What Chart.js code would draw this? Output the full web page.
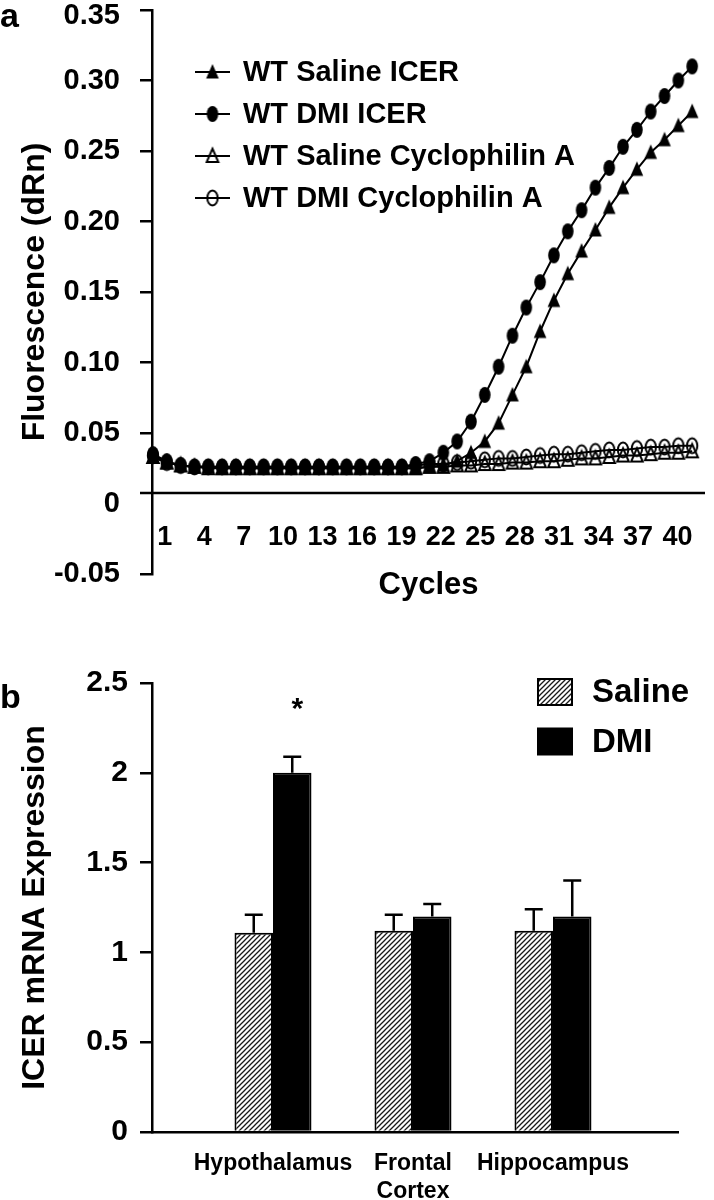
<!DOCTYPE html>
<html><head><meta charset="utf-8">
<script src="https://cdn.jsdelivr.net/npm/chart.js@4.4.1/dist/chart.umd.min.js"></script>
<style>
html,body{margin:0;padding:0;background:#fff;}
body{width:714px;height:1200px;position:relative;overflow:hidden;font-family:"Liberation Sans",Arial,sans-serif;}
canvas{position:absolute;left:0;}
#ca{top:0;} #cb{top:620px;}
.panel{position:absolute;left:0;font:bold 34px "Liberation Sans",Arial,sans-serif;line-height:34px;color:#000;}
</style></head><body>
<canvas id="ca" width="714" height="620"></canvas>
<canvas id="cb" width="714" height="580"></canvas>
<div class="panel" style="top:-2px">a</div>
<div class="panel" style="top:679px">b</div>
<script>
// ---------- Panel a data ----------
const cycles = [1,2,3,4,5,6,7,8,9,10,11,12,13,14,15,16,17,18,19,20,21,22,23,24,25,26,27,28,29,30,31,32,33,34,35,36,37,38,39,40];
const salineICER = [0.033,0.029,0.027,0.026,0.026,0.025,0.025,0.025,0.025,0.025,0.025,0.025,0.025,0.025,0.025,0.025,0.025,0.025,0.025,0.025,0.026,0.027,0.030,0.036,0.044,0.057,0.077,0.097,0.122,0.144,0.163,0.179,0.194,0.210,0.224,0.237,0.249,0.258,0.268,0.278];
const dmiICER = [0.035,0.030,0.027,0.026,0.026,0.026,0.026,0.026,0.026,0.026,0.026,0.026,0.026,0.026,0.026,0.026,0.026,0.026,0.026,0.028,0.030,0.036,0.044,0.058,0.077,0.097,0.119,0.139,0.157,0.176,0.193,0.208,0.224,0.238,0.253,0.265,0.278,0.289,0.300,0.310];
const salineCyclophilin = [0.033,0.029,0.027,0.026,0.025,0.025,0.025,0.025,0.025,0.025,0.025,0.025,0.025,0.025,0.025,0.025,0.025,0.025,0.025,0.025,0.026,0.026,0.027,0.027,0.028,0.028,0.029,0.029,0.030,0.030,0.031,0.032,0.032,0.033,0.034,0.034,0.035,0.036,0.036,0.037];
const dmiCyclophilin = [0.034,0.029,0.027,0.026,0.026,0.026,0.026,0.026,0.026,0.026,0.026,0.026,0.026,0.026,0.026,0.026,0.026,0.026,0.026,0.027,0.028,0.028,0.029,0.030,0.031,0.032,0.032,0.033,0.034,0.035,0.035,0.036,0.037,0.038,0.038,0.039,0.040,0.040,0.041,0.041];
const seriesLabelsA = ['WT Saline ICER','WT DMI ICER','WT Saline Cyclophilin A','WT DMI Cyclophilin A'];
const cycleTickLabels = [1,4,7,10,13,16,19,22,25,28,31,34,37,40];
const yTickValuesA = [-0.05,0,0.05,0.10,0.15,0.20,0.25,0.30,0.35];
const yTickLabelsA = ['-0.05','0','0.05','0.10','0.15','0.20','0.25','0.30','0.35'];
const thresholdValue = 0.0075;

// ---------- Panel b data ----------
const regions = ['Hypothalamus', ['Frontal','Cortex'], 'Hippocampus'];
const salineMean = [1.11, 1.12, 1.12];
const salineSEM  = [0.10, 0.09, 0.12];
const dmiMean    = [2.00, 1.20, 1.20];
const dmiSEM     = [0.09, 0.07, 0.20];
const significance = ['*', '', ''];
const groupLabelsB = ['Saline','DMI'];
const yTickValuesB = [0,0.5,1,1.5,2,2.5];
const yTickLabelsB = ['0','0.5','1','1.5','2','2.5'];

const FONT = '"Liberation Sans", Arial, Helvetica, sans-serif';

function makeMarker(kind){
  const c=document.createElement('canvas');
  const w=16,h=20; c.width=w; c.height=h;
  const g=c.getContext('2d');
  g.fillStyle='#000'; g.strokeStyle='#000'; g.lineWidth=2;
  const cx=w/2, cy=h/2;
  g.beginPath();
  if(kind==='filledCircle'){ g.ellipse(cx,cy,5.8,8,0,0,Math.PI*2); g.fill(); }
  else if(kind==='openCircle'){ g.ellipse(cx,cy,5.2,7.4,0,0,Math.PI*2); g.stroke(); }
  else if(kind==='filledTriangle'){ g.moveTo(cx,cy-8); g.lineTo(cx+6.3,cy+6.5); g.lineTo(cx-6.3,cy+6.5); g.closePath(); g.fill(); }
  else { g.moveTo(cx,cy-7.3); g.lineTo(cx+5.8,cy+6); g.lineTo(cx-5.8,cy+6); g.closePath(); g.stroke(); }
  return c;
}
const markerKinds = ['filledTriangle','filledCircle','openTriangle','openCircle'];
const seriesA = [salineICER, dmiICER, salineCyclophilin, dmiCyclophilin];

const datasetsA = seriesA.map((vals,i)=>({
  label: seriesLabelsA[i],
  data: vals.map((v,j)=>({x:cycles[j], y:v})),
  borderColor:'#000', borderWidth:2, backgroundColor:'#000',
  pointStyle: makeMarker(markerKinds[i]), pointRadius:7, pointHoverRadius:7,
  fill:false, tension:0, clip:false, xAxisID:'x', yAxisID:'y'
}));

const thresholdPlugin = {
  id:'threshold',
  afterDraw(chart){
    const {ctx, chartArea} = chart; const ys = chart.scales.y;
    const y = ys.getPixelForValue(thresholdValue);
    ctx.save(); ctx.strokeStyle='#000'; ctx.lineWidth=2.5;
    ctx.beginPath(); ctx.moveTo(chartArea.left-12, y); ctx.lineTo(chartArea.right, y); ctx.stroke();
    // y tick labels (kept inside the canvas at the top)
    ctx.fillStyle='#000'; ctx.font='bold 29px '+FONT; ctx.textAlign='right'; ctx.textBaseline='middle';
    yTickValuesA.forEach((v,i)=>{
      const py = Math.max(ys.getPixelForValue(v), 16);
      ctx.fillText(yTickLabelsA[i], chartArea.left-32, py);
    });
    ctx.restore();
  }
};
const legendAPlugin = {
  id:'legendA',
  afterDraw(chart){
    const ctx=chart.ctx; ctx.save();
    chart.data.datasets.forEach((ds,i)=>{
      const y = 72 + i*42;
      ctx.strokeStyle='#000'; ctx.lineWidth=2;
      ctx.beginPath(); ctx.moveTo(195,y); ctx.lineTo(230,y); ctx.stroke();
      const img=ds.pointStyle; ctx.drawImage(img, 212.5-img.width/2, y-img.height/2);
      ctx.fillStyle='#000'; ctx.font='bold 29px '+FONT; ctx.textBaseline='middle'; ctx.textAlign='left';
      ctx.fillText(ds.label, 243, y+1);
    });
    ctx.restore();
  }
};

new Chart(document.getElementById('ca'), {
  type:'line',
  data:{datasets:datasetsA},
  options:{
    responsive:false, animation:false, devicePixelRatio:1,
    layout:{padding:{top:10,left:0,right:1,bottom:46}},
    plugins:{legend:{display:false}, tooltip:{enabled:false}},
    scales:{
      x:{type:'linear', display:false, min:0.929, max:40.927},
      xl:{type:'linear', axis:'x', position:{y:thresholdValue}, min:0.025, max:42.1,
        grid:{display:false, drawTicks:false}, border:{display:false},
        afterBuildTicks:s=>{ s.ticks = cycleTickLabels.map(v=>({value:v})); },
        ticks:{font:{family:FONT,size:27,weight:'bold'}, color:'#000', padding:28, maxRotation:0, autoSkip:false, callback:(v,i)=>String(cycleTickLabels[i])},
        title:{display:true, text:'Cycles', font:{family:FONT,size:31,weight:'bold'}, color:'#000', padding:{top:-14,bottom:0}},
        afterFit:s=>{ s.paddingLeft=0; s.paddingRight=0; }
      },
      y:{type:'linear', position:'left', min:-0.05, max:0.35,
        afterBuildTicks:s=>{ s.ticks = yTickValuesA.map(v=>({value:v})); },
        grid:{drawOnChartArea:false, drawTicks:true, tickLength:12, lineWidth:2.5,
              color:c=> (c.tick && Math.abs(c.tick.value)<1e-9) ? 'rgba(0,0,0,0)' : '#000'},
        border:{display:true, color:'#000', width:2.5},
        ticks:{display:false, font:{family:FONT,size:29,weight:'bold'}, color:'#000', padding:20, autoSkip:false, callback:(v,i)=>yTickLabelsA[i]},
        title:{display:true, text:'Fluorescence (dRn)', font:{family:FONT,size:32,weight:'bold'}, color:'#000', padding:{top:16,bottom:0}},
        afterFit:s=>{ s.width=152; s.paddingTop=0; s.paddingBottom=0; }
      }
    }
  },
  plugins:[thresholdPlugin, legendAPlugin]
});

// ---------- Panel b ----------
const cbEl = document.getElementById('cb');
const hatch = (()=>{
  const c=document.createElement('canvas'); c.width=c.height=5;
  const g=c.getContext('2d'); g.fillStyle='#fff'; g.fillRect(0,0,5,5);
  g.strokeStyle='#1a1a1a'; g.lineWidth=1.3; g.beginPath();
  g.moveTo(-1,6); g.lineTo(6,-1); g.moveTo(-1,1); g.lineTo(1,-1); g.moveTo(4,6); g.lineTo(6,4); g.stroke();
  return cbEl.getContext('2d').createPattern(c,'repeat');
})();
const groupX = regions.map((r,i)=>i+1);
const datasetsB = [
  {label:groupLabelsB[0], data:salineMean.map((v,i)=>({x:groupX[i], y:v})), sem:salineSEM,
   backgroundColor:hatch, borderColor:'#000', borderWidth:2},
  {label:groupLabelsB[1], data:dmiMean.map((v,i)=>({x:groupX[i], y:v})), sem:dmiSEM,
   backgroundColor:'#000', borderColor:'#000', borderWidth:2}
];
const errorPlugin = {
  id:'errbars',
  afterDatasetsDraw(chart){
    const ctx=chart.ctx, ys=chart.scales.y; ctx.save();
    ctx.strokeStyle='#000'; ctx.lineWidth=2.5;
    chart.data.datasets.forEach((ds,di)=>{
      chart.getDatasetMeta(di).data.forEach((bar,i)=>{
        const top = ys.getPixelForValue(ds.data[i].y + ds.sem[i]);
        ctx.beginPath(); ctx.moveTo(bar.x, bar.y); ctx.lineTo(bar.x, top);
        ctx.moveTo(bar.x-9, top); ctx.lineTo(bar.x+9, top); ctx.stroke();
        if(di===1 && significance[i]){
          ctx.fillStyle='#000'; ctx.font='bold 30px '+FONT; ctx.textAlign='center'; ctx.textBaseline='middle';
          ctx.fillText(significance[i], bar.x+5, top-47);
        }
      });
    });
    ctx.restore();
  }
};
const legendBPlugin = {
  id:'legendB',
  afterDraw(chart){
    const ctx=chart.ctx; ctx.save();
    chart.data.datasets.forEach((ds,i)=>{
      const y = 72 + i*49.5;
      ctx.fillStyle = ds.backgroundColor; ctx.fillRect(538, y-13, 34, 26);
      ctx.strokeStyle='#000'; ctx.lineWidth=2; ctx.strokeRect(538, y-13, 34, 26);
      ctx.fillStyle='#000'; ctx.font='bold 33px '+FONT; ctx.textAlign='left'; ctx.textBaseline='middle';
      ctx.fillText(ds.label, 592, y+1);
    });
    ctx.restore();
  }
};
new Chart(cbEl, {
  type:'bar',
  data:{datasets:datasetsB},
  options:{
    responsive:false, animation:false, devicePixelRatio:1,
    layout:{padding:{top:63,left:0,right:36,bottom:0}},
    plugins:{legend:{display:false}, tooltip:{enabled:false}},
    datasets:{bar:{barPercentage:1, categoryPercentage:0.55}},
    scales:{
      x:{type:'linear', position:'bottom', min:0.1357, max:3.893, offset:false,
        afterBuildTicks:s=>{ s.ticks = groupX.map(v=>({value:v})); },
        grid:{display:false, drawTicks:false}, border:{display:true, color:'#000', width:2.5},
        ticks:{font:{family:FONT,size:23,weight:'bold',lineHeight:1.25}, color:'#000', padding:17, maxRotation:0, autoSkip:false, callback:(v,i)=>regions[i]},
        afterFit:s=>{ s.height=68; s.paddingLeft=0; s.paddingRight=0; }
      },
      y:{type:'linear', position:'left', min:0, max:2.5,
        afterBuildTicks:s=>{ s.ticks = yTickValuesB.map(v=>({value:v})); },
        grid:{drawOnChartArea:false, drawTicks:true, tickLength:12, lineWidth:2.5, color:'#000'},
        border:{display:true, color:'#000', width:2.5},
        ticks:{font:{family:FONT,size:30,weight:'bold'}, color:'#000', padding:12, autoSkip:false, callback:(v,i)=>yTickLabelsB[i]},
        title:{display:true, text:'ICER mRNA Expression', font:{family:FONT,size:32,weight:'bold'}, color:'#000', padding:{top:16,bottom:0}},
        afterFit:s=>{ s.width=152; s.paddingTop=0; s.paddingBottom=0; }
      }
    }
  },
  plugins:[errorPlugin, legendBPlugin]
});
</script>
</body></html>
